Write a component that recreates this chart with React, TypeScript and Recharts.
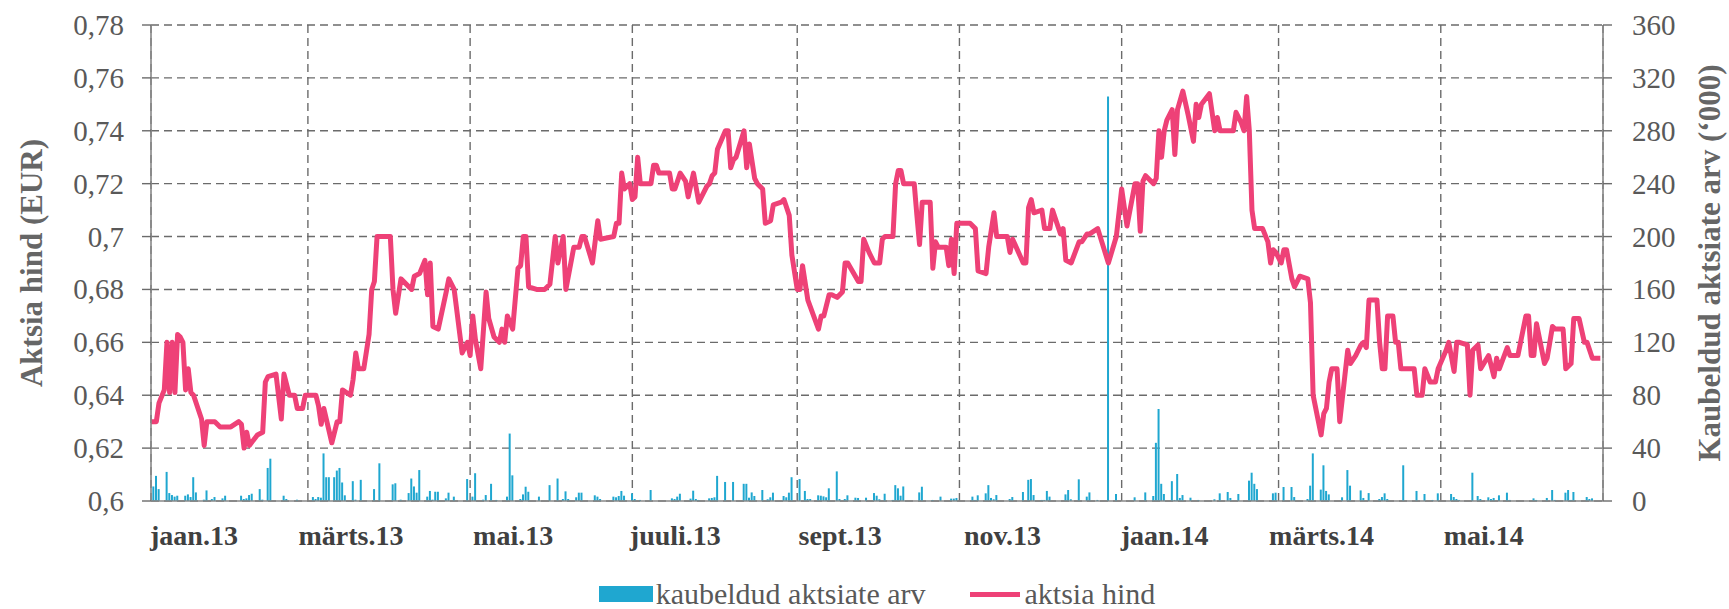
import { ComposedChart, Bar, Line, XAxis, YAxis, CartesianGrid, Legend } from 'recharts';

// päevad alates 1.01.2013 (kuupäeva telg)
const monthTicks = [0, 59, 120, 181, 243, 304, 365, 424, 485];
const monthLabels = ['jaan.13', 'märts.13', 'mai.13', 'juuli.13', 'sept.13', 'nov.13', 'jaan.14', 'märts.14', 'mai.14'];
const priceTicks = [0.6, 0.62, 0.64, 0.66, 0.68, 0.7, 0.72, 0.74, 0.76, 0.78];
const volumeTicks = [0, 40, 80, 120, 160, 200, 240, 280, 320, 360];

const priceDays = [
  0, 2, 3, 5, 6, 7, 8, 9, 10, 11, 12, 13, 14, 15, 16, 19, 20, 21, 24, 26, 30, 33, 34, 35, 36, 37, 40, 42, 43, 44, 47, 49, 50, 52, 54, 55, 57, 58,
  62, 63, 64, 65, 68, 70, 71, 72, 75, 76, 77, 78, 80, 82, 83, 84, 85, 90, 91, 92, 94, 98, 99, 101, 103, 104, 105, 106, 108, 111, 112, 114, 117, 119,
  120, 121, 122, 124, 126, 127, 129, 131, 132, 133, 134, 136, 138, 139, 140, 141, 142, 145, 148, 150, 152, 153, 155, 156, 159, 161, 162, 163, 166, 168, 169, 174, 175, 176, 177, 178, 180,
  181, 182, 183, 184, 188, 189, 190, 191, 195, 196, 197, 199, 201, 202, 204, 206, 209, 210, 211, 212, 213, 216, 217, 218, 219, 220, 223, 224, 225, 227, 228, 230, 231, 233, 234, 237, 238, 240, 241,
  243, 244, 245, 247, 251, 252, 253, 255, 256, 258, 260, 261, 262, 266, 267, 268, 270, 272, 274, 275, 276, 279, 280, 281, 282, 283, 287, 288, 289, 290, 293, 294, 295, 296, 299, 300, 301, 302, 303,
  308, 310, 311, 314, 315, 317, 318, 322, 323, 324, 328, 329, 330, 331, 332, 335, 336, 338, 339, 341, 342, 343, 344, 346, 349, 350, 352, 353, 356, 360, 363,
  365, 367, 370, 371, 372, 373, 374, 377, 378, 379, 380, 381, 382, 384, 385, 386, 388, 390, 392, 393, 394, 395, 398, 400, 401, 402, 407, 408, 410, 411, 412, 413, 414, 415, 418, 420, 421, 422, 423,
  425, 426, 427, 429, 430, 432, 435, 436, 437, 440, 441, 442, 443, 444, 446, 447, 450, 451, 453, 455, 456, 457, 458, 461, 462, 463, 464, 465, 467, 468, 469, 470, 475, 476, 478, 479, 481, 483, 484,
  487, 488, 490, 491, 492, 495, 496, 497, 499, 500, 503, 505, 506, 507, 510, 511, 514, 517, 518, 519, 520, 521, 524, 525, 527, 528, 531, 532, 534, 535, 537, 539, 540, 542, 545,
];
const priceValues = [
  0.630, 0.630, 0.637, 0.642, 0.660, 0.641, 0.660, 0.641, 0.663, 0.662, 0.660, 0.642, 0.650, 0.641, 0.640, 0.631, 0.621, 0.630, 0.630, 0.628, 0.628, 0.630, 0.629, 0.620, 0.626, 0.621, 0.625, 0.626, 0.645, 0.647, 0.648, 0.631, 0.648, 0.640, 0.640, 0.635, 0.635, 0.640,
  0.640, 0.636, 0.629, 0.635, 0.622, 0.630, 0.630, 0.642, 0.640, 0.646, 0.656, 0.650, 0.650, 0.663, 0.680, 0.683, 0.700, 0.700, 0.680, 0.671, 0.684, 0.680, 0.685, 0.686, 0.691, 0.678, 0.690, 0.666, 0.665, 0.679, 0.684, 0.680, 0.656, 0.660,
  0.655, 0.670, 0.661, 0.650, 0.679, 0.669, 0.662, 0.660, 0.665, 0.660, 0.670, 0.665, 0.688, 0.689, 0.700, 0.700, 0.681, 0.680, 0.680, 0.682, 0.700, 0.690, 0.700, 0.680, 0.696, 0.696, 0.700, 0.700, 0.690, 0.706, 0.699, 0.700, 0.705, 0.705, 0.724, 0.718, 0.720,
  0.714, 0.715, 0.730, 0.720, 0.720, 0.727, 0.727, 0.724, 0.724, 0.718, 0.718, 0.724, 0.721, 0.715, 0.724, 0.713, 0.719, 0.720, 0.723, 0.724, 0.733, 0.740, 0.740, 0.726, 0.729, 0.730, 0.740, 0.726, 0.735, 0.722, 0.720, 0.718, 0.705, 0.706, 0.712, 0.713, 0.714, 0.708, 0.693,
  0.680, 0.680, 0.689, 0.676, 0.665, 0.670, 0.670, 0.678, 0.678, 0.677, 0.679, 0.690, 0.690, 0.683, 0.683, 0.699, 0.694, 0.690, 0.690, 0.699, 0.700, 0.700, 0.720, 0.725, 0.725, 0.720, 0.720, 0.708, 0.697, 0.713, 0.713, 0.688, 0.698, 0.696, 0.696, 0.689, 0.699, 0.686, 0.705,
  0.705, 0.703, 0.687, 0.686, 0.696, 0.709, 0.700, 0.700, 0.694, 0.699, 0.690, 0.690, 0.711, 0.714, 0.709, 0.710, 0.703, 0.703, 0.710, 0.704, 0.701, 0.703, 0.691, 0.690, 0.698, 0.698, 0.701, 0.701, 0.703, 0.690, 0.700,
  0.718, 0.704, 0.720, 0.720, 0.702, 0.721, 0.723, 0.720, 0.722, 0.740, 0.730, 0.740, 0.744, 0.748, 0.731, 0.748, 0.755, 0.746, 0.736, 0.750, 0.745, 0.750, 0.754, 0.740, 0.745, 0.740, 0.740, 0.747, 0.743, 0.740, 0.753, 0.740, 0.710, 0.703, 0.703, 0.698, 0.690, 0.695, 0.694,
  0.690, 0.695, 0.695, 0.684, 0.681, 0.685, 0.684, 0.675, 0.640, 0.625, 0.633, 0.635, 0.645, 0.650, 0.650, 0.630, 0.657, 0.652, 0.655, 0.659, 0.660, 0.658, 0.676, 0.676, 0.660, 0.650, 0.650, 0.670, 0.670, 0.660, 0.660, 0.650, 0.650, 0.640, 0.640, 0.650, 0.645, 0.645, 0.650,
  0.657, 0.660, 0.649, 0.660, 0.660, 0.659, 0.640, 0.657, 0.659, 0.650, 0.655, 0.647, 0.654, 0.650, 0.658, 0.655, 0.655, 0.670, 0.670, 0.655, 0.655, 0.667, 0.652, 0.654, 0.666, 0.665, 0.665, 0.650, 0.652, 0.669, 0.669, 0.660, 0.660, 0.654, 0.654,
];

const volumeDays = [
  1, 2, 3, 6, 7, 8, 9, 10, 13, 14, 15, 16, 17, 20, 21, 23, 24, 27, 28, 34, 35, 36, 37, 38, 41, 42, 44, 45, 50, 51, 55,
  61, 62, 63, 64, 65, 66, 67, 69, 70, 71, 72, 73, 76, 77, 79, 84, 86, 91, 92, 94, 97, 98, 99, 100, 101, 104, 105, 106, 107, 108, 111, 112, 114, 119,
  121, 122, 125, 126, 128, 130, 134, 135, 136, 139, 140, 141, 142, 146, 150, 153, 155, 156, 157, 160, 161, 162, 167, 168, 169, 174, 175, 176, 177, 178,
  181, 182, 184, 188, 196, 197, 198, 199, 203, 204, 205, 206, 210, 211, 212, 213, 216, 219, 223, 224, 225, 226, 227, 230, 232, 233, 234, 238, 239, 240, 241,
  244, 246, 247, 248, 251, 252, 253, 254, 255, 258, 259, 261, 262, 265, 266, 269, 272, 273, 274, 276, 279, 280, 281, 282, 283, 289, 290, 294, 297, 301, 302, 303,
  309, 310, 311, 314, 315, 316, 317, 318, 323, 324, 328, 330, 331, 332, 335, 336, 337, 338, 344, 345, 346, 349, 352, 353, 356, 360, 363,
  370, 374, 377, 378, 379, 380, 381, 384, 385, 386, 387, 388, 391, 394, 400, 402, 405, 406, 409, 413, 414, 415, 416, 422, 423,
  426, 429, 430, 435, 436, 437, 440, 441, 442, 443, 448, 450, 451, 455, 456, 458, 462, 463, 464, 465, 471, 476, 479, 482, 484,
  489, 490, 491, 492, 497, 499, 500, 503, 504, 505, 507, 510, 511, 520, 521, 525, 527, 528, 532, 533, 534, 535, 540, 541, 542,
];
const volumeValues = [
  11, 19, 9, 22, 6, 4.5, 3.3, 4, 4, 5, 3, 18, 6.5, 1, 8, 1.5, 3, 2, 4, 4, 1.5, 2, 4.5, 5.5, 9, 1, 25, 32, 4, 1.5, 1,
  3, 1.5, 3, 2.5, 36, 18, 18, 18, 23, 25, 14, 4.3, 15, 1, 16, 9, 28.5, 12.6, 13.4, 1, 6, 17, 11, 6.3, 23.4, 3.3, 7.6, 1, 7, 7, 2, 6.3, 3.3, 16.6,
  3.3, 21, 1, 4.5, 13, 0.8, 3.3, 51, 19.4, 1.5, 5, 10.8, 7, 3.3, 12, 17, 1.5, 7.3, 1.5, 2.8, 6.3, 6.3, 4.3, 3.3, 1.5, 3.3, 2.8, 3.8, 7.6, 4,
  5.8, 1.5, 0.8, 8.3, 2, 1.5, 3.3, 5.5, 1.8, 7.8, 1.5, 0.8, 2, 2.3, 2.8, 19, 14.4, 14.4, 13, 13, 2.5, 6.5, 3.8, 8.3, 1.3, 2.8, 6.3, 3.8, 2.8, 6.3, 18,
  16.6, 7.6, 1.5, 1.5, 4.3, 4, 3.5, 2.8, 9.6, 22.4, 1.5, 1.5, 4.3, 2.5, 2.3, 2.5, 6, 4, 1.3, 5.5, 0.8, 12, 9.6, 4, 11, 6.5, 10.8, 0.8, 3.3, 1.8, 1.8, 2.3,
  3.3, 0.8, 4.3, 5.8, 12, 2.3, 1.3, 4.5, 1.5, 3, 6.8, 16, 16.6, 4.5, 0.8, 0.8, 7.6, 3.3, 5, 8.3, 1.3, 16.4, 3.3, 6.5, 0.8, 306, 5.3,
  2.8, 6.5, 3.8, 44, 69.6, 13, 5.3, 15, 0.8, 20.4, 2.3, 4.5, 2.5, 0.8, 1.3, 5.8, 6.8, 2.3, 5.3, 15.4, 21.4, 13, 9, 5.8, 6.3,
  10.6, 10.6, 3, 1.5, 11.6, 36, 8.6, 27, 7.6, 5, 2.8, 23.4, 11.6, 8, 2.3, 6, 1.5, 3, 5.8, 1.5, 27, 7.6, 5.3, 0.8, 5.8,
  5.3, 3, 1.5, 0.8, 21.4, 3.8, 1.5, 2.8, 1.5, 2.3, 4.3, 6.3, 0.8, 2, 0.8, 2.3, 8.3, 0.8, 6.3, 8.3, 0.8, 6.8, 3, 1.5, 2,
];

type Row = { day: number; price?: number; volume?: number };

const byDay = new Map<number, Row>();
const rowFor = (d: number) => {
  if (!byDay.has(d)) byDay.set(d, { day: d });
  return byDay.get(d)!;
};
priceDays.forEach((d, i) => { rowFor(d).price = priceValues[i]; });
volumeDays.forEach((d, i) => { rowFor(d).volume = volumeValues[i]; });
const data = Array.from(byDay.values()).sort((a, b) => a.day - b.day);

const FONT = '"Liberation Serif", "Times New Roman", serif';
const BLUE = '#1fa7d0';
const PINK = '#ee4177';

const MonthTick = ({ x, y, payload }: any) => {
  const i = monthTicks.indexOf(payload.value);
  return (
    <text x={x + 43} y={y + 44} textAnchor="middle" style={{ fontFamily: FONT }} fontWeight="bold" fontSize={28} fill="#404040">
      {monthLabels[i]}
    </text>
  );
};

const fmtPrice = (v: number) => String(Math.round(v * 100) / 100).replace('.', ',');

const ValueTick = ({ x, y, payload, textAnchor, fmt }: any) => (
  <text x={x} y={y} dy={10} textAnchor={textAnchor} style={{ fontFamily: FONT }} fontSize={29} fill="#595959">
    {fmt ? fmt(payload.value) : payload.value}
  </text>
);

const AxisTitle = ({ viewBox, value, dx }: any) => {
  const cx = viewBox.x + dx;
  const cy = viewBox.y + viewBox.height / 2;
  return (
    <text x={cx} y={cy} transform={`rotate(-90 ${cx} ${cy})`} textAnchor="middle" dominantBaseline="central"
      style={{ fontFamily: FONT }} fontWeight="bold" fontSize={31} fill="#666666">
      {value}
    </text>
  );
};

const LegendBox = () => (
  <div style={{ display: 'flex', justifyContent: 'center', alignItems: 'center', height: 28, lineHeight: '28px', fontFamily: FONT, fontSize: 30, color: '#595959', whiteSpace: 'nowrap' }}>
    <span style={{ display: 'inline-block', width: 54, height: 16, background: BLUE, marginRight: 3 }} />
    <span>kaubeldud aktsiate arv</span>
    <span style={{ display: 'inline-block', width: 50, height: 5, background: PINK, marginLeft: 44, marginRight: 5 }} />
    <span>aktsia hind</span>
  </div>
);

export default function App() {
  return (
    <div style={{ position: 'absolute', left: 0, top: 0, background: '#fff' }}>
      <ComposedChart width={1729} height={609} data={data} margin={{ top: 25, right: 0, bottom: 0, left: 0 }}>
        <CartesianGrid yAxisId="left" stroke="#6b6b6b" strokeWidth={1.4} strokeDasharray="8 5" />
        <XAxis
          dataKey="day"
          type="number"
          domain={[0, 546]}
          ticks={monthTicks}
          height={108}
          tickSize={0}
          tickMargin={0}
          tickLine={false}
          axisLine={{ stroke: '#878787', strokeWidth: 1.6 }}
          tick={<MonthTick />}
        />
        <YAxis
          yAxisId="left"
          orientation="left"
          width={151}
          domain={[0.6, 0.78]}
          ticks={priceTicks}
          tickSize={9}
          tickMargin={18}
          tickLine={{ stroke: '#6b6b6b', strokeWidth: 1.4 }}
          axisLine={{ stroke: '#878787', strokeWidth: 1.6 }}
          tick={<ValueTick fmt={fmtPrice} />}
          label={<AxisTitle value="Aktsia hind (EUR)" dx={31} />}
        />
        <YAxis
          yAxisId="right"
          orientation="right"
          width={126}
          domain={[0, 360]}
          ticks={volumeTicks}
          tickSize={9}
          tickMargin={20}
          tickLine={{ stroke: '#6b6b6b', strokeWidth: 1.4 }}
          axisLine={{ stroke: '#878787', strokeWidth: 1.6 }}
          tick={<ValueTick />}
          label={<AxisTitle value="Kaubeldud aktsiate arv (‘000)" dx={106} />}
        />
        <Legend
          layout="horizontal"
          verticalAlign="middle"
          align="center"
          content={<LegendBox />}
          wrapperStyle={{ top: 580, left: 151, width: 1452, height: 28 }}
        />
        <Bar yAxisId="right" dataKey="volume" name="kaubeldud aktsiate arv" fill={BLUE} barSize={2} isAnimationActive={false} />
        <Line
          yAxisId="left"
          dataKey="price"
          name="aktsia hind"
          type="linear"
          stroke={PINK}
          strokeWidth={5}
          strokeLinejoin="round"
          dot={false}
          activeDot={false}
          connectNulls
          isAnimationActive={false}
        />
      </ComposedChart>
    </div>
  );
}
